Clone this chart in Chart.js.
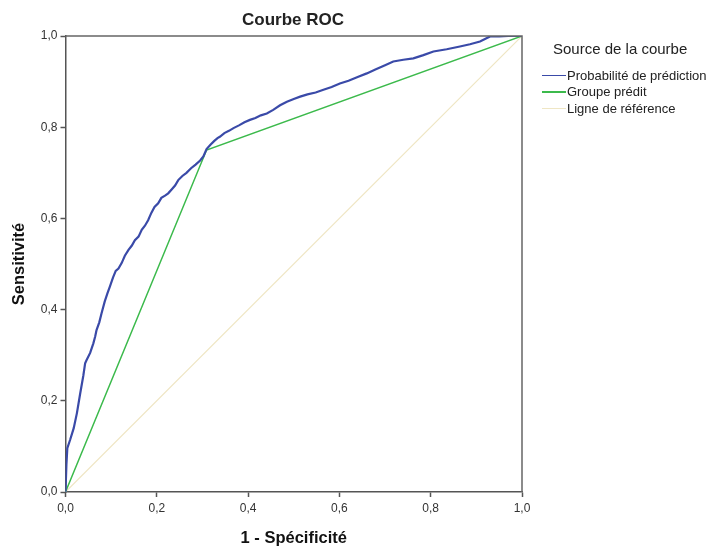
<!DOCTYPE html>
<html><head><meta charset="utf-8">
<script src="https://cdn.jsdelivr.net/npm/chart.js@4/dist/chart.umd.min.js"></script>
<style>
html,body{margin:0;padding:0;background:#fff;}
#wrap{position:relative;width:706px;height:552px;}
#title{position:absolute;left:193px;width:200px;top:10px;text-align:center;font:bold 17px "Liberation Sans",Arial,sans-serif;color:#222;}
#legend{position:absolute;left:542px;top:40px;font-family:"Liberation Sans",Arial,sans-serif;color:#222;white-space:nowrap;}
#legend .h{font-size:15px;margin-left:11px;margin-bottom:10px;}
#legend .it{font-size:13px;height:16.5px;display:flex;align-items:center;}
#legend .sw{display:inline-block;width:24px;height:1.5px;margin-right:1px;}
</style></head>
<body><div id="wrap"><canvas id="c" width="706" height="552"></canvas>
<div id="title"></div><div id="legend"></div></div>
<script>
const chartTitle = "Courbe ROC";
const xTitle = "1 - Spécificité";
const yTitle = "Sensitivité";
const legendTitle = "Source de la courbe";
const seriesNames = ["Probabilité de prédiction", "Groupe prédit", "Ligne de référence"];
const seriesColors = ["#3a4aa8", "#3cba4c", "#efe6c4"];
const tickValues = [0, 0.2, 0.4, 0.6, 0.8, 1.0];

// Probabilité de prédiction (x = 1 - spécificité, y = sensitivité)
const probX = [0, 0.002, 0.004, 0.010, 0.018, 0.025, 0.032, 0.039, 0.043, 0.046, 0.054, 0.061, 0.065, 0.068, 0.074, 0.079, 0.086, 0.092, 0.097, 0.104, 0.110, 0.116, 0.123, 0.130, 0.138, 0.145, 0.152, 0.160, 0.167, 0.174, 0.181, 0.188, 0.195, 0.203, 0.210, 0.218, 0.225, 0.232, 0.240, 0.247, 0.256, 0.265, 0.275, 0.285, 0.295, 0.302, 0.309, 0.318, 0.326, 0.333, 0.338, 0.348, 0.358, 0.368, 0.380, 0.392, 0.404, 0.416, 0.428, 0.441, 0.455, 0.470, 0.485, 0.500, 0.514, 0.530, 0.548, 0.565, 0.583, 0.601, 0.620, 0.640, 0.660, 0.680, 0.700, 0.718, 0.740, 0.762, 0.784, 0.806, 0.835, 0.864, 0.886, 0.908, 0.920, 0.930, 0.950, 0.970, 0.985, 1.0];
const probY = [0, 0.060, 0.096, 0.114, 0.140, 0.173, 0.215, 0.255, 0.282, 0.289, 0.305, 0.326, 0.341, 0.355, 0.372, 0.392, 0.418, 0.436, 0.450, 0.470, 0.485, 0.490, 0.502, 0.518, 0.531, 0.540, 0.552, 0.560, 0.575, 0.584, 0.596, 0.612, 0.625, 0.633, 0.645, 0.650, 0.655, 0.663, 0.672, 0.684, 0.693, 0.700, 0.710, 0.718, 0.727, 0.736, 0.752, 0.762, 0.770, 0.776, 0.779, 0.787, 0.792, 0.798, 0.804, 0.811, 0.816, 0.820, 0.826, 0.830, 0.838, 0.848, 0.856, 0.862, 0.867, 0.872, 0.876, 0.882, 0.888, 0.896, 0.902, 0.910, 0.918, 0.927, 0.936, 0.944, 0.948, 0.951, 0.958, 0.966, 0.971, 0.977, 0.982, 0.988, 0.994, 0.999, 0.999, 1.0, 1.0, 1.0];
// Groupe prédit
const groupX = [0, 0.309, 1.0];
const groupY = [0, 0.750, 1.0];
// Ligne de référence
const refX = [0, 1.0];
const refY = [0, 1.0];

const toPts = (xs, ys) => xs.map((x, i) => ({x: x, y: ys[i]}));
const fmt = v => Number(v).toFixed(1).replace('.', ',');

document.getElementById('title').textContent = chartTitle;
const lg = document.getElementById('legend');
lg.innerHTML = '<div class="h">' + legendTitle + '</div>' + seriesNames.map((n, i) =>
  '<div class="it"><span class="sw" style="background:' + seriesColors[i] + '"></span>' + n + '</div>').join('');

const framePlugin = {
  id: 'frame',
  afterDatasetsDraw(chart) {
    const a = chart.chartArea, ctx = chart.ctx;
    ctx.save();
    ctx.strokeStyle = '#666';
    ctx.lineWidth = 1.5;
    ctx.beginPath();
    ctx.moveTo(a.left, a.top); ctx.lineTo(a.right, a.top); ctx.lineTo(a.right, a.bottom);
    ctx.stroke();
    ctx.restore();
  }
};

const axisFont = {family: '"Liberation Sans", Arial, sans-serif', size: 12};
const titleFont = {family: '"Liberation Sans", Arial, sans-serif', size: 16.5, weight: 'bold'};

new Chart(document.getElementById('c'), {
  type: 'scatter',
  data: {
    datasets: [
      {label: seriesNames[2], data: toPts(refX, refY), showLine: true, borderColor: seriesColors[2], borderWidth: 1.2, pointRadius: 0, order: 3},
      {label: seriesNames[1], data: toPts(groupX, groupY), showLine: true, borderColor: seriesColors[1], borderWidth: 1.5, pointRadius: 0, order: 2},
      {label: seriesNames[0], data: toPts(probX, probY), showLine: true, borderColor: seriesColors[0], borderWidth: 2.2, pointRadius: 0, tension: 0, order: 1}
    ]
  },
  options: {
    responsive: false,
    animation: false,
    layout: {padding: {left: 0, right: 184, top: 36, bottom: 0}},
    plugins: {legend: {display: false}, title: {display: false}, tooltip: {enabled: false}},
    scales: {
      x: {
        type: 'linear', min: 0, max: 1,
        afterBuildTicks: s => { s.ticks = tickValues.map(v => ({value: v})); },
        afterFit: s => { s.height = 60; },
        ticks: {callback: fmt, color: '#333', font: axisFont, padding: 4, maxRotation: 0},
        grid: {display: true, drawOnChartArea: false, drawTicks: true, tickLength: 5, tickColor: '#555', tickWidth: 1.5},
        border: {display: true, color: '#555', width: 1.5},
        title: {display: true, text: xTitle, color: '#111', font: titleFont, padding: {top: 0, bottom: 4}}
      },
      y: {
        type: 'linear', min: 0, max: 1,
        afterBuildTicks: s => { s.ticks = tickValues.map(v => ({value: v})); },
        afterFit: s => { s.width = 65.5; },
        ticks: {callback: fmt, color: '#333', font: axisFont, padding: 3},
        grid: {display: true, drawOnChartArea: false, drawTicks: true, tickLength: 5, tickColor: '#555', tickWidth: 1.5},
        border: {display: true, color: '#555', width: 1.5},
        title: {display: true, text: yTitle, color: '#111', font: titleFont, padding: {top: 10, bottom: 0}}
      }
    }
  },
  plugins: [framePlugin]
});
</script></body></html>
